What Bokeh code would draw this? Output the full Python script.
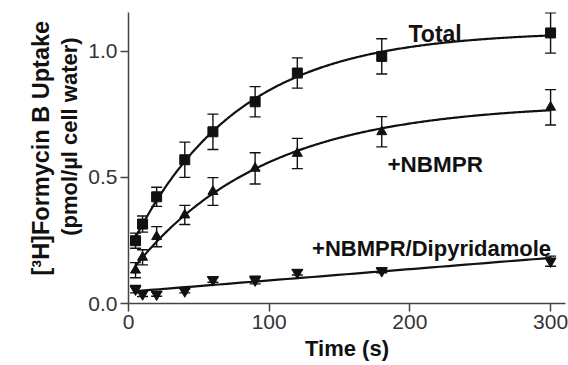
import numpy as np
from bokeh.plotting import figure
from bokeh.models import (ColumnDataSource, Whisker, TeeHead, Label, Range1d, FixedTicker,
                          CustomJSTickFormatter, LinearAxis)
from bokeh.embed import file_html
from bokeh.resources import INLINE

# ---- data ----
time_s = [5, 10, 20, 40, 60, 90, 120, 180, 300]

total = [0.249, 0.315, 0.423, 0.570, 0.681, 0.800, 0.914, 0.980, 1.073]
total_err = [0.030, 0.032, 0.038, 0.070, 0.070, 0.060, 0.060, 0.070, 0.080]

nbmpr = [0.132, 0.183, 0.265, 0.351, 0.444, 0.536, 0.595, 0.681, 0.778]
nbmpr_err = [0.030, 0.030, 0.040, 0.038, 0.055, 0.062, 0.060, 0.060, 0.070]

dipy = [0.057, 0.038, 0.037, 0.050, 0.094, 0.093, 0.123, 0.130, 0.168]
dipy_err = [0.015, 0.010, 0.008, 0.008, 0.010, 0.015, 0.010, 0.008, 0.020]

x_ticks = [0, 100, 200, 300]
y_ticks = [0.0, 0.5, 1.0]

y_label_1 = "[³H]Formycin B Uptake"
y_label_2 = "(pmol/µl cell water)"
x_label = "Time (s)"

FONT = "Liberation Sans"
DARK = "#111111"
AXIS = "#444444"
NBSP = "\u00a0"

t = np.array(time_s, dtype=float)


def exp_fit(y):
    """Least-squares fit y = b + a*(1-exp(-k t)) via grid over k."""
    y = np.array(y, dtype=float)
    best = None
    for k in np.linspace(0.001, 0.08, 800):
        A = np.column_stack([np.ones_like(t), 1 - np.exp(-k * t)])
        coef, res, _, _ = np.linalg.lstsq(A, y, rcond=None)
        r = np.sum((A @ coef - y) ** 2)
        if best is None or r < best[0]:
            best = (r, k, coef)
    _, k, (b, a) = best
    tt = np.linspace(t.min(), t.max(), 300)
    return tt, b + a * (1 - np.exp(-k * tt))


def lin_fit(y):
    m, c = np.polyfit(t, np.array(y, dtype=float), 1)
    tt = np.linspace(t.min() - 1.5, t.max(), 50)
    return tt, c + m * tt


W, H = 568, 365
p = figure(width=W, height=H, output_backend="svg", toolbar_location=None,
           x_range=Range1d(0, 310.6), y_range=Range1d(0, 1.154),
           min_border_left=128, min_border_right=3, min_border_top=12, min_border_bottom=62)
p.outline_line_color = None
p.grid.visible = False
p.background_fill_color = "white"
p.border_fill_color = "white"

series = [
    (total, total_err, "square", 10, exp_fit),
    (nbmpr, nbmpr_err, "triangle", 10, exp_fit),
    (dipy, dipy_err, "inverted_triangle", 11, lin_fit),
]

for vals, errs, marker, size, fitter in series:
    fx, fy = fitter(vals)
    p.line(fx, fy, line_color=DARK, line_width=2.2)
    v = np.array(vals)
    e = np.array(errs)
    src = ColumnDataSource(dict(t=time_s, y=vals, lo=list(v - e), hi=list(v + e)))
    w = Whisker(source=src, base="t", lower="lo", upper="hi", line_color=DARK, line_width=1.4,
                upper_head=TeeHead(size=11, line_color=DARK, line_width=1.4),
                lower_head=TeeHead(size=11, line_color=DARK, line_width=1.4))
    p.add_layout(w)
    p.scatter("t", "y", source=src, marker=marker, size=size, fill_color=DARK, line_color=DARK)

# axes
for ax in (p.xaxis[0], p.yaxis[0]):
    ax.axis_line_color = AXIS
    ax.axis_line_width = 1.5
    ax.major_tick_line_color = AXIS
    ax.major_tick_line_width = 1.5
    ax.major_tick_out = 8
    ax.major_tick_in = 0
    ax.minor_tick_line_color = None
    ax.major_label_text_font = FONT
    ax.major_label_text_font_size = "21px"
    ax.major_label_text_color = "#333333"

p.xaxis.ticker = FixedTicker(ticks=x_ticks)
p.yaxis.ticker = FixedTicker(ticks=y_ticks)
p.yaxis.formatter = CustomJSTickFormatter(code="return tick.toFixed(1);")
p.xaxis.major_label_standoff = 3
p.yaxis.major_label_standoff = 3

p.xaxis.axis_label = x_label
p.xaxis.axis_label_text_font = FONT
p.xaxis.axis_label_text_font_size = "22px"
p.xaxis.axis_label_text_font_style = "bold"
p.xaxis.axis_label_text_color = DARK
p.xaxis.axis_label_standoff = 4

# inner y label line (leading NBSPs shift the visible text upward)
yax = p.yaxis[0]
yax.axis_label = NBSP * 7 + y_label_2
yax.axis_label_text_font = FONT
yax.axis_label_text_font_size = "22px"
yax.axis_label_text_font_style = "bold"
yax.axis_label_text_color = DARK
yax.axis_label_standoff = 3

# outer y label line on a bare extra axis
outer = LinearAxis(ticker=FixedTicker(ticks=[]), axis_line_color=None,
                   major_tick_line_color=None, minor_tick_line_color=None,
                   major_label_text_font_size="0px",
                   axis_label=NBSP * 3 + y_label_1, axis_label_text_font=FONT,
                   axis_label_text_font_size="23.5px", axis_label_text_font_style="bold",
                   axis_label_text_color=DARK, axis_label_standoff=1)
p.add_layout(outer, "left")

# series annotations
for txt, x, y, fs in [("Total", 199, 1.069, "23px"), ("+NBMPR", 184, 0.55, "22.5px"),
                      ("+NBMPR/Dipyridamole", 130.5, 0.22, "22px")]:
    p.add_layout(Label(x=x, y=y, text=txt, text_align="left", text_baseline="alphabetic",
                       text_font=FONT, text_font_size=fs, text_font_style="bold",
                       text_color=DARK))

open("out.html", "w").write(file_html(p, INLINE))
